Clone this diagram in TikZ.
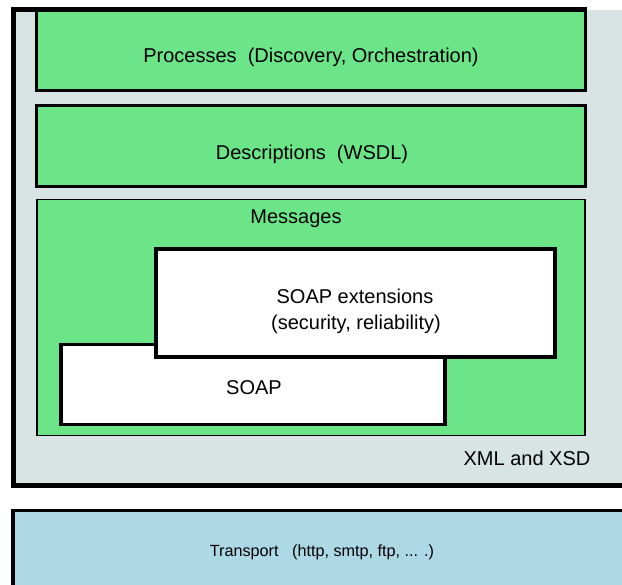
\documentclass[tikz,border=0pt]{standalone}
\usepackage{fontspec}
\setmainfont{Liberation Sans}
\definecolor{layergreen}{RGB}{107,229,135}
\definecolor{xmlgray}{RGB}{216,228,228}
\definecolor{transportblue}{RGB}{173,216,230}
\tikzset{
  lbl/.style={inner sep=0pt, font=\fontsize{20}{24}\selectfont},
  smalllbl/.style={inner sep=0pt, font=\fontsize{16.2}{19}\selectfont},
  layerbox/.style={draw=black, line width=3pt, fill=layergreen},
  innerbox/.style={draw=black, line width=3.5pt, fill=white},
}
\begin{document}
\begin{tikzpicture}[x=1pt, y=-1pt]
\useasboundingbox (0,0) rectangle (622,585);
\clip (0,0) rectangle (622,585);

% XML/XSD foundation block
\fill[xmlgray] (14,10) rectangle (650,486);
\draw[line width=5pt] (13.5,7) -- (13.5,488.5);
\draw[line width=5pt] (11,9.5) -- (587,9.5);
\draw[line width=5pt] (11,486) -- (650,486);

% Green layers
\draw[layerbox] (36.5,11) rectangle (585.5,90.5);
\draw[layerbox] (36.5,105.5) rectangle (585.5,186.5);
\draw[draw=black, line width=1.5pt, fill=layergreen] (37,199.5) rectangle (585,435.5);

% SOAP and its extensions
\draw[innerbox] (61,344.5) rectangle (445,424.5);
\draw[innerbox] (156,249) rectangle (555,357);

% Transport block
\draw[draw=black, line width=3.5pt, fill=transportblue] (13,510.5) rectangle (650,600);

% Labels
\node[lbl] (processes) at (311,57.5) {Processes\ \ (Discovery, Orchestration)};
\node[lbl] (descriptions) at (312,154) {Descriptions\ \ (WSDL)};
\node[lbl] (messages) at (296,219) {Messages};
\node[lbl] (soapext) at (355,296.5) {SOAP extensions};
\node[lbl] (soapextsub) at (356,324.5) {(security, reliability)};
\node[lbl] (soap) at (254,387.5) {SOAP};
\node[lbl] (xml) at (527,458.5) {XML and XSD};
\node[smalllbl] (transport) at (322,552) {Transport\ \ \ (http, smtp, ftp, ... .)};
\end{tikzpicture}
\end{document}
